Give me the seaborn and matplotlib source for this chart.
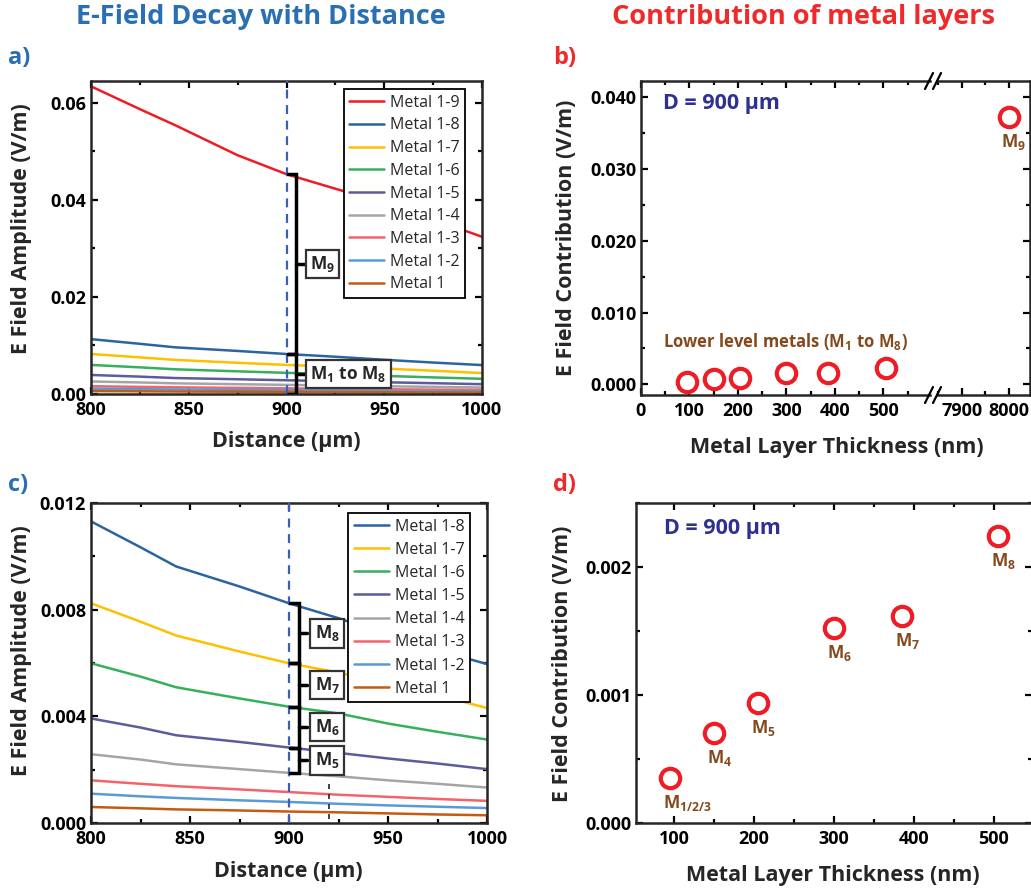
import pandas as pd
import matplotlib
matplotlib.use('Agg')
import matplotlib.pyplot as plt
from matplotlib.lines import Line2D
from matplotlib.ticker import MultipleLocator, FormatStrFormatter
import seaborn as sns

# ---- data ----
distance = [800, 825, 843, 875, 900, 925, 950, 975, 1000]

metal_1_9 = [0.0634, 0.0587, 0.0554, 0.0492, 0.0453, 0.0423, 0.0393, 0.0360, 0.0324]
metal_1_8 = [0.01131, 0.01034, 0.00962, 0.00887, 0.00824, 0.00768, 0.00705, 0.00648, 0.00596]
metal_1_7 = [0.00824, 0.00755, 0.00703, 0.00643, 0.00599, 0.00564, 0.00524, 0.00480, 0.00431]
metal_1_6 = [0.00599, 0.00549, 0.00509, 0.00467, 0.00436, 0.00411, 0.00373, 0.00342, 0.00313]
metal_1_5 = [0.00392, 0.00358, 0.00329, 0.00304, 0.00283, 0.00263, 0.00242, 0.00223, 0.00202]
metal_1_4 = [0.00258, 0.00238, 0.00220, 0.00202, 0.00188, 0.00175, 0.00160, 0.00147, 0.00133]
metal_1_3 = [0.00160, 0.00147, 0.00138, 0.00126, 0.00116, 0.00106, 0.00098, 0.00090, 0.00083]
metal_1_2 = [0.00110, 0.00100, 0.00094, 0.00085, 0.00079, 0.00072, 0.00066, 0.00061, 0.00056]
metal_1 = [0.00060, 0.00055, 0.00051, 0.00047, 0.00043, 0.00040, 0.00036, 0.00032, 0.00029]

layer_names = ['Metal 1-9', 'Metal 1-8', 'Metal 1-7', 'Metal 1-6', 'Metal 1-5',
               'Metal 1-4', 'Metal 1-3', 'Metal 1-2', 'Metal 1']
layer_values = [metal_1_9, metal_1_8, metal_1_7, metal_1_6, metal_1_5,
                metal_1_4, metal_1_3, metal_1_2, metal_1]
layer_colors = ['#ee1c25', '#2b64a0', '#ffc000', '#36b05c', '#5c5c9c',
                '#a5a5a5', '#f4636a', '#5b9bd5', '#c55a11']

# contribution of each layer at D = 900 um
thickness = [95, 150, 205, 300, 385, 505, 8000]
contribution = [0.00035, 0.00070, 0.00094, 0.00152, 0.00162, 0.00224, 0.0373]
contrib_labels = ['M$_{1/2/3}$', 'M$_{4}$', 'M$_{5}$', 'M$_{6}$', 'M$_{7}$', 'M$_{8}$', 'M$_{9}$']

# long-form table for seaborn
rows = []
for name, vals in zip(layer_names, layer_values):
    for d, v in zip(distance, vals):
        rows.append({'distance': d, 'amp': v, 'layer': name})
df = pd.DataFrame(rows)
palette = dict(zip(layer_names, layer_colors))

# ---- style ----
sns.set_theme(style='ticks')
plt.rcParams['font.family'] = ['Open Sans', 'DejaVu Sans']
plt.rcParams['font.weight'] = 'bold'
plt.rcParams['mathtext.fontset'] = 'custom'
plt.rcParams['mathtext.rm'] = 'Open Sans:bold'
plt.rcParams['mathtext.it'] = 'Open Sans:bold'
plt.rcParams['mathtext.bf'] = 'Open Sans:bold'
plt.rcParams['axes.linewidth'] = 1.8

BLUE = '#2a6fb4'
RED = '#ee2a2a'
BROWN = '#844a1d'
NAVY = '#2e3192'
TICK_SIZE = 13
LABEL_SIZE = 15.5

W, H = 1031, 891
fig = plt.figure(figsize=(W / 100, H / 100), dpi=100)


def px_box(left, right, top, bottom):
    return [left / W, 1 - bottom / H, (right - left) / W, (bottom - top) / H]


def fig_text(x, y, s, **kw):
    fig.text(x / W, 1 - y / H, s, **kw)


def style_ticks(ax, left=True, right=True):
    ax.tick_params(which='both', direction='in', top=True, right=right, left=left,
                   labelsize=TICK_SIZE, width=1.6, colors='black')
    ax.tick_params(which='major', length=5)
    ax.tick_params(which='minor', length=3)
    ax.tick_params(axis='x', pad=5)
    for lab in ax.get_xticklabels() + ax.get_yticklabels():
        lab.set_fontweight('bold')


def brace(ax, x_bar, x_hook, x_tick, lo, hi):
    ax.plot([x_hook, x_bar, x_bar, x_hook], [hi, hi, lo, lo], color='black', lw=2.5,
            solid_joinstyle='miter', zorder=5)
    mid = (lo + hi) / 2
    ax.plot([x_bar, x_tick], [mid, mid], color='black', lw=2.5, zorder=5)
    return mid


box_style = dict(boxstyle='square,pad=0.25', fc='white', ec='#333333', lw=1.6)
legend_font = {'family': ['Open Sans', 'DejaVu Sans'], 'weight': 'normal', 'size': 11.5}
i900 = distance.index(900)

# ---- panel a ----
ax_a = fig.add_axes(px_box(91, 482, 81, 394))
sns.lineplot(data=df, x='distance', y='amp', hue='layer', hue_order=layer_names,
             palette=palette, linewidth=1.8, ax=ax_a)
ax_a.set_xlim(800, 1000)
ax_a.set_ylim(0, 0.0645)
ax_a.xaxis.set_major_locator(MultipleLocator(50))
ax_a.xaxis.set_minor_locator(MultipleLocator(25))
ax_a.yaxis.set_major_locator(MultipleLocator(0.02))
ax_a.yaxis.set_minor_locator(MultipleLocator(0.01))
ax_a.yaxis.set_major_formatter(FormatStrFormatter('%.2f'))
ax_a.set_xlabel('')
ax_a.set_ylabel('')
ax_a.axvline(900, color='#3a5fb8', lw=1.6, ls=(0, (4, 3)), zorder=4)
top9 = metal_1_9[i900]
top8 = metal_1_8[i900]
m = brace(ax_a, 905, 901, 909.5, top8, top9)
ax_a.text(912, m, 'M$_{9}$', fontsize=12.5, va='center', ha='left', bbox=box_style, zorder=6)
m = brace(ax_a, 905, 901, 909.5, 0, top8)
ax_a.text(912, m, 'M$_{1}$ to M$_{8}$', fontsize=12.5, va='center', ha='left', bbox=box_style, zorder=6)
h, l = ax_a.get_legend_handles_labels()
ax_a.legend(h, l, loc='upper right', bbox_to_anchor=(0.957, 0.974), borderaxespad=0,
            fancybox=False, edgecolor='black', framealpha=1, handlelength=2.2,
            handletextpad=0.35, labelspacing=0.42, borderpad=0.35,
            prop=legend_font).get_frame().set_linewidth(1.3)
style_ticks(ax_a)

# ---- panel c ----
df_c = df[df['layer'] != 'Metal 1-9']
names_c = layer_names[1:]
ax_c = fig.add_axes(px_box(91, 487, 503, 823))
sns.lineplot(data=df_c, x='distance', y='amp', hue='layer', hue_order=names_c,
             palette=palette, linewidth=1.8, ax=ax_c)
ax_c.set_xlim(800, 1000)
ax_c.set_ylim(0, 0.012)
ax_c.xaxis.set_major_locator(MultipleLocator(50))
ax_c.xaxis.set_minor_locator(MultipleLocator(25))
ax_c.yaxis.set_major_locator(MultipleLocator(0.004))
ax_c.yaxis.set_minor_locator(MultipleLocator(0.002))
ax_c.yaxis.set_major_formatter(FormatStrFormatter('%.3f'))
ax_c.set_xlabel('')
ax_c.set_ylabel('')
ax_c.axvline(900, color='#3a5fb8', lw=1.6, ls=(0, (4, 3)), zorder=4)
ax_c.plot([920, 920], [0.00016, 0.00154], color='#222222', lw=1.2, ls=(0, (3, 3)))
steps = [metal_1_8, metal_1_7, metal_1_6, metal_1_5, metal_1_4]
for k, sub in zip(range(4), ['8', '7', '6', '5']):
    hi = steps[k][i900]
    lo = steps[k + 1][i900]
    m = brace(ax_c, 905, 900.5, 909, lo, hi)
    ax_c.text(913, m, 'M$_{%s}$' % sub, fontsize=12.5, va='center', ha='left',
              bbox=box_style, zorder=6)
h, l = ax_c.get_legend_handles_labels()
ax_c.legend(h, l, loc='upper right', bbox_to_anchor=(0.957, 0.969), borderaxespad=0,
            fancybox=False, edgecolor='black', framealpha=1, handlelength=2.2,
            handletextpad=0.35, labelspacing=0.45, borderpad=0.35,
            prop=legend_font).get_frame().set_linewidth(1.3)
style_ticks(ax_c)

# ---- panel b (broken x axis) ----
ax_bl = fig.add_axes(px_box(641, 930, 81, 395))
ax_br = fig.add_axes(px_box(937, 1030, 81, 395))
for ax in (ax_bl, ax_br):
    sns.scatterplot(x=thickness, y=contribution, ax=ax, s=195, color='white',
                    edgecolor='#ee1c25', linewidth=3, zorder=5, clip_on=True)
    ax.set_ylim(-0.0015, 0.0423)
    ax.yaxis.set_major_locator(MultipleLocator(0.01))
    ax.yaxis.set_minor_locator(MultipleLocator(0.005))
    ax.yaxis.set_major_formatter(FormatStrFormatter('%.3f'))
ax_bl.set_xlim(0, 596)
ax_bl.xaxis.set_major_locator(MultipleLocator(100))
ax_bl.xaxis.set_minor_locator(MultipleLocator(50))
ax_br.set_xlim(7847, 8045)
ax_br.xaxis.set_major_locator(MultipleLocator(100))
ax_br.xaxis.set_minor_locator(MultipleLocator(50))
ax_bl.spines['right'].set_visible(False)
ax_br.spines['left'].set_visible(False)
style_ticks(ax_bl, right=False)
style_ticks(ax_br, left=False)
ax_br.tick_params(labelleft=False)
ax_bl.text(0.076, 0.927, 'D = 900 μm', transform=ax_bl.transAxes, color=NAVY,
           fontsize=15.5, va='center', ha='left')
ax_bl.text(0.076, 0.169, 'Lower level metals (M$_{1}$ to M$_{8}$)', transform=ax_bl.transAxes,
           color=BROWN, fontsize=12, va='center', ha='left')
ax_br.annotate(contrib_labels[-1], (thickness[-1], contribution[-1]), xytext=(-6, -18),
               textcoords='offset points', color=BROWN, fontsize=12.5, ha='left', va='center')
# break marks
for yb in (81, 395):
    for xb in (929, 937):
        fig.add_artist(Line2D([(xb - 4) / W, (xb + 4) / W], [1 - (yb + 8) / H, 1 - (yb - 8) / H],
                              color='black', lw=1.6))

# ---- panel d ----
ax_d = fig.add_axes(px_box(636, 1032, 503, 823))
sns.scatterplot(x=thickness[:-1], y=contribution[:-1], ax=ax_d, s=195, color='white',
                edgecolor='#ee1c25', linewidth=3, zorder=5)
for t, c, lab in zip(thickness[:-1], contribution[:-1], contrib_labels[:-1]):
    ax_d.annotate(lab, (t, c), xytext=(-5, -18), textcoords='offset points',
                  color=BROWN, fontsize=12.5, ha='left', va='center')
ax_d.set_xlim(52, 548)
ax_d.set_ylim(0, 0.0025)
ax_d.xaxis.set_major_locator(MultipleLocator(100))
ax_d.xaxis.set_minor_locator(MultipleLocator(50))
ax_d.yaxis.set_major_locator(MultipleLocator(0.001))
ax_d.yaxis.set_minor_locator(MultipleLocator(0.0005))
ax_d.yaxis.set_major_formatter(FormatStrFormatter('%.3f'))
ax_d.text(0.071, 0.919, 'D = 900 μm', transform=ax_d.transAxes, color=NAVY,
          fontsize=15.5, va='center', ha='left')
style_ticks(ax_d)

# ---- figure texts ----
fig_text(261, 17, 'E-Field Decay with Distance', color=BLUE, fontsize=19.5, ha='center', va='center')
fig_text(804, 17, 'Contribution of metal layers', color=RED, fontsize=19.5, ha='center', va='center')
fig_text(8, 58, 'a)', color=BLUE, fontsize=17, ha='left', va='center')
fig_text(553, 58, 'b)', color=RED, fontsize=17, ha='left', va='center')
fig_text(8, 485, 'c)', color=BLUE, fontsize=17, ha='left', va='center')
fig_text(553, 485, 'd)', color=RED, fontsize=17, ha='left', va='center')

fig_text(22, 229, 'E Field Amplitude (V/m)', fontsize=LABEL_SIZE, rotation=90, ha='center', va='center')
fig_text(22, 651, 'E Field Amplitude (V/m)', fontsize=LABEL_SIZE, rotation=90, ha='center', va='center')
fig_text(566, 238, 'E Field Contribution (V/m)', fontsize=LABEL_SIZE, rotation=90, ha='center', va='center')
fig_text(562, 664, 'E Field Contribution (V/m)', fontsize=LABEL_SIZE, rotation=90, ha='center', va='center')
fig_text(286, 442, 'Distance (μm)', fontsize=LABEL_SIZE, ha='center', va='center')
fig_text(288, 872, 'Distance (μm)', fontsize=LABEL_SIZE, ha='center', va='center')
fig_text(837, 447, 'Metal Layer Thickness (nm)', fontsize=LABEL_SIZE, ha='center', va='center')
fig_text(833, 875, 'Metal Layer Thickness (nm)', fontsize=LABEL_SIZE, ha='center', va='center')

fig.savefig('out.png', dpi=100, facecolor='white')
